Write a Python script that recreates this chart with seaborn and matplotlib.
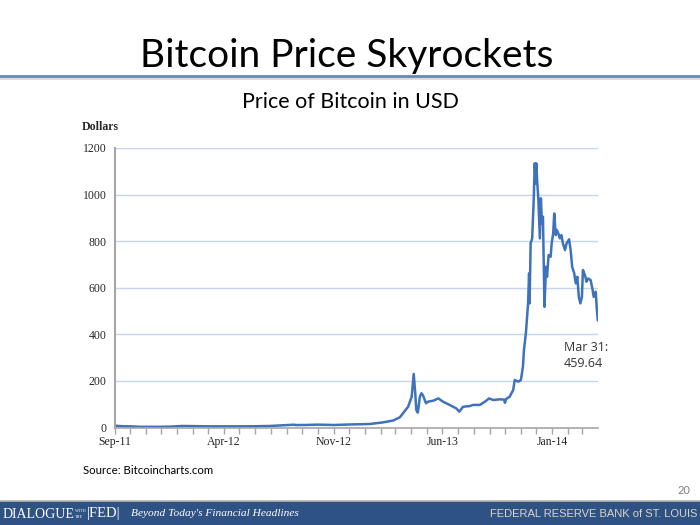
import pandas as pd
import matplotlib
matplotlib.use("Agg")
import matplotlib.pyplot as plt
import matplotlib.dates as mdates
from matplotlib.patches import Rectangle
from matplotlib.lines import Line2D
import seaborn as sns

# Datos (precio de Bitcoin en USD)
fechas = [
    "2011-09-01", "2011-09-15", "2011-10-01", "2011-10-20", "2011-11-10", "2011-12-01",
    "2011-12-20", "2012-01-10", "2012-02-01", "2012-03-01", "2012-04-01", "2012-05-01",
    "2012-06-01", "2012-07-01", "2012-07-20", "2012-08-15", "2012-08-20", "2012-09-10",
    "2012-10-01", "2012-11-01", "2012-11-25", "2012-12-02", "2013-01-10", "2013-02-05",
    "2013-02-25", "2013-03-10", "2013-03-16", "2013-03-26", "2013-04-02", "2013-04-06",
    "2013-04-09", "2013-04-11", "2013-04-14", "2013-04-18", "2013-04-21", "2013-04-24",
    "2013-04-30", "2013-05-04", "2013-05-14", "2013-05-24", "2013-06-02", "2013-06-15",
    "2013-06-28", "2013-07-04", "2013-07-11", "2013-07-24", "2013-07-31", "2013-08-13",
    "2013-08-23", "2013-08-31", "2013-09-08", "2013-09-21", "2013-09-29", "2013-10-01",
    "2013-10-03", "2013-10-10", "2013-10-17", "2013-10-20", "2013-10-27", "2013-11-01",
    "2013-11-05", "2013-11-07", "2013-11-11", "2013-11-15", "2013-11-17", "2013-11-18",
    "2013-11-20", "2013-11-23", "2013-11-26", "2013-11-28", "2013-11-30", "2013-12-01",
    "2013-12-03", "2013-12-05", "2013-12-08", "2013-12-10", "2013-12-12", "2013-12-14",
    "2013-12-17", "2013-12-20", "2013-12-22", "2013-12-25", "2013-12-29", "2013-12-31",
    "2014-01-03", "2014-01-05", "2014-01-08", "2014-01-10", "2014-01-13", "2014-01-16",
    "2014-01-19", "2014-01-22", "2014-01-26", "2014-01-29", "2014-02-03", "2014-02-06",
    "2014-02-09", "2014-02-13", "2014-02-16", "2014-02-19", "2014-02-22", "2014-02-25",
    "2014-02-28", "2014-03-02", "2014-03-06", "2014-03-09", "2014-03-12", "2014-03-17",
    "2014-03-21", "2014-03-23", "2014-03-27", "2014-03-29", "2014-03-31",
]
precios = [
    8, 5.5, 5, 3, 3, 3,
    4, 6.5, 6, 5, 5, 5,
    5.3, 6.7, 9, 12, 10.5, 11,
    12.4, 10.8, 12.5, 13, 15, 22,
    30, 44, 61, 89, 132, 230,
    147, 75, 64, 132, 147, 138,
    104, 111, 115, 125, 111, 97,
    82, 68, 89, 92, 97, 97,
    111, 125, 118, 121, 120, 106,
    122, 132, 161, 204, 197, 204,
    261, 333, 411, 533, 662, 533,
    790, 812, 976, 1134, 1048, 1134,
    1048, 984, 812, 984, 876, 905,
    518, 690, 647, 740, 733, 790,
    833, 919, 826, 848, 833, 812,
    826, 790, 762, 790, 808, 762,
    690, 662, 619, 647, 561, 533,
    561, 676, 654, 626, 640, 633,
    590, 561, 583, 512, 459.64,
]

ticks_fechas = ["2011-09-01", "2012-04-01", "2012-11-01", "2013-06-01", "2014-01-01"]
ticks_etiquetas = ["Sep-11", "Apr-12", "Nov-12", "Jun-13", "Jan-14"]
ticks_y = [0, 200, 400, 600, 800, 1000, 1200]

df = pd.DataFrame({"fecha": pd.to_datetime(fechas), "precio": precios})

sns.set_theme(style="white")
plt.rcParams["font.family"] = ["Liberation Serif", "DejaVu Serif"]

fig = plt.figure(figsize=(7, 5.25), dpi=100)
ax = fig.add_axes([0.164, 0.1857, 0.690, 0.5324])

sns.lineplot(data=df, x="fecha", y="precio", ax=ax, color="#3E72BC", linewidth=1.8)

ax.set_ylim(0, 1200)
ax.set_xlim(pd.Timestamp("2011-09-01"), pd.Timestamp("2014-03-31"))
ax.set_yticks(ticks_y)
ax.set_yticklabels([str(v) for v in ticks_y], fontsize=8.5)
ax.set_xticks(pd.to_datetime(ticks_fechas))
ax.set_xticklabels(ticks_etiquetas, fontsize=8.5)
ax.xaxis.set_minor_locator(mdates.MonthLocator())
ax.set_xlabel("")
ax.set_ylabel("")

# Rejilla y ejes estilo Excel
ax.grid(axis="y", color="#C5D6EC", linewidth=1)
ax.set_axisbelow(True)
for lado in ["top", "right"]:
    ax.spines[lado].set_visible(False)
ax.spines["left"].set_color("#A6A6A6")
ax.spines["left"].set_linewidth(1.5)
ax.spines["bottom"].set_color("#A6A6A6")
ax.spines["bottom"].set_linewidth(1.2)
ax.tick_params(axis="y", length=0, pad=6)
ax.tick_params(axis="x", which="both", direction="out", length=4, color="#A6A6A6", width=1, pad=2, bottom=True)

ax.text(0.93, 0.31, "Mar 31:\n459.64", transform=ax.transAxes, va="top", ha="left",
        fontsize=9, family=["Open Sans", "DejaVu Sans"], color="#333333", linespacing=1.35)

# Textos de la diapositiva
fig.text(0.495, 1 - 56 / 525, "Bitcoin Price Skyrockets", ha="center", va="center",
         fontsize=28, family=["Lato", "DejaVu Sans"], color="black")
fig.add_artist(Line2D([0, 1], [1 - 78 / 525] * 2, transform=fig.transFigure, color="#DADADA", linewidth=2))
fig.add_artist(Line2D([0, 1], [1 - 76 / 525] * 2, transform=fig.transFigure, color="#5B8BC8", linewidth=2))
fig.text(0.5, 1 - 102 / 525, "Price of Bitcoin in USD", ha="center", va="center",
         fontsize=15.5, family=["Lato", "DejaVu Sans"], color="black")
fig.text(82 / 700, 1 - 127 / 525, "Dollars", ha="left", va="center", fontsize=8.5, fontweight="bold")
fig.text(83 / 700, 1 - 470 / 525, "Source: Bitcoincharts.com", ha="left", va="center",
         fontsize=8.2, family=["Lato", "DejaVu Sans"], color="black")
fig.text(690 / 700, 1 - 491 / 525, "20", ha="right", va="center", fontsize=8,
         family=["Lato", "DejaVu Sans"], color="#7F7F7F")

# Pie de pagina
fig.add_artist(Rectangle((0, 0), 1, 24 / 525, transform=fig.transFigure,
                         facecolor="#2F5285", edgecolor="none"))
fig.add_artist(Line2D([0, 1], [24 / 525] * 2, transform=fig.transFigure, color="#B5B5B5", linewidth=1.2))
pie_y = 1 - 514 / 525
fig.text(3 / 700, pie_y, "DIALOGUE", ha="left", va="center", fontsize=10, color="white")
fig.text(75 / 700, pie_y + 3.5 / 525, "WITH", ha="left", va="center", fontsize=3, color="white")
fig.text(75 / 700, pie_y - 3.5 / 525, "THE", ha="left", va="center", fontsize=3, color="white")
fig.text(87 / 700, pie_y, "|FED|", ha="left", va="center", fontsize=10.5, color="white")
fig.text(131 / 700, pie_y, "Beyond Today's Financial Headlines", ha="left", va="center",
         fontsize=8.2, style="italic", color="white")
fig.text(697 / 700, pie_y, "FEDERAL RESERVE BANK of ST. LOUIS", ha="right", va="center",
         fontsize=8, family=["Liberation Sans", "DejaVu Sans"], color="#D9D5C3")

fig.savefig("out.png", dpi=100)
